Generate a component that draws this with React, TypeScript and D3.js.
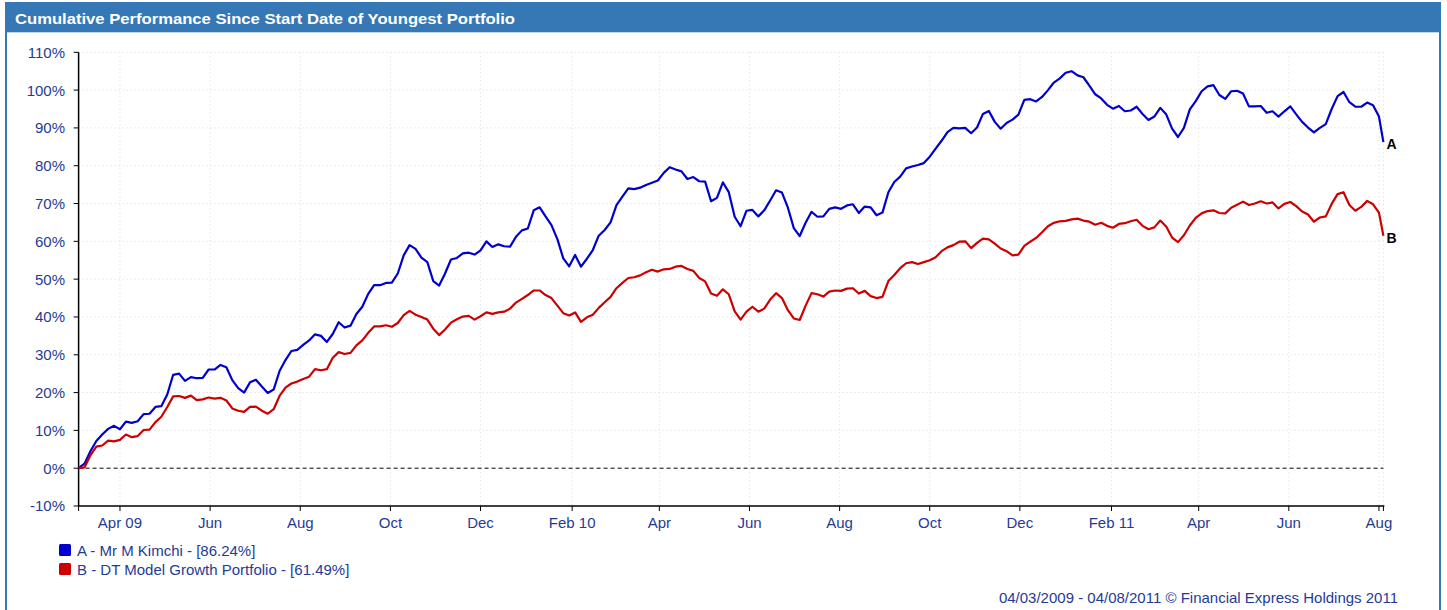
import React from 'react';
import * as d3 from 'd3';

// chart data
const startDate = new Date(Date.UTC(2009, 2, 4));
const endDate = new Date(Date.UTC(2011, 7, 4));
const stepDays = 4;

const kimchi = [
  0, 1.2, 4.5, 7.2, 8.9, 10.4, 11.2, 10.3, 12.3, 12.0, 12.4, 14.3, 14.4, 16.2, 16.4, 19.5, 24.7, 25.0, 23.1, 24.1,
  23.8, 23.9, 26.1, 26.1, 27.3, 26.7, 23.3, 21.2, 20.0, 22.7, 23.4, 21.6, 19.9, 20.8, 25.7, 28.6, 31.0, 31.3, 32.6, 33.8,
  35.4, 35.0, 33.4, 35.5, 38.6, 37.2, 37.7, 40.8, 42.7, 46.1, 48.4, 48.4, 49.0, 49.1, 51.5, 56.3, 59.0, 58.0, 55.7, 54.5,
  49.5, 48.3, 51.5, 55.2, 55.6, 56.8, 57.0, 56.5, 57.6, 60.0, 58.5, 59.2, 58.7, 58.6, 61.2, 62.9, 63.4, 68.2, 69.0, 66.6,
  64.3, 60.6, 55.5, 53.4, 56.4, 53.3, 55.4, 57.7, 61.5, 63.0, 65.0, 69.6, 71.8, 74.0, 73.8, 74.2, 74.9, 75.5, 76.1, 78.1,
  79.6, 79.0, 78.5, 76.5, 77.0, 75.9, 75.8, 70.6, 71.5, 75.6, 73.0, 66.5, 64.0, 68.1, 68.3, 66.6, 68.2, 70.8, 73.5, 72.9,
  68.9, 63.5, 61.4, 64.9, 67.8, 66.5, 66.6, 68.6, 69.0, 68.6, 69.5, 69.8, 67.5, 69.2, 69.0, 66.9, 67.6, 73.0, 75.7, 77.1,
  79.3, 79.8, 80.2, 80.7, 82.4, 84.5, 86.6, 88.9, 90.0, 89.9, 90.0, 88.6, 90.1, 93.7, 94.5, 91.6, 89.8, 91.3, 92.2, 93.5,
  97.4, 97.6, 97.0, 98.2, 100.0, 102.0, 103.1, 104.6, 105.0, 103.9, 103.4, 101.2, 98.9, 97.8, 96.1, 95.1, 95.8, 94.4, 94.6, 95.6,
  93.7, 92.1, 93.0, 95.3, 93.6, 89.8, 87.6, 90.0, 94.9, 97.1, 99.7, 101.0, 101.3, 98.7, 97.7, 99.7, 99.8, 99.1, 95.7, 95.7,
  95.8, 94.0, 94.4, 93.0, 94.4, 95.7, 93.6, 91.6, 90.1, 88.8, 90.0, 91.0, 95.0, 98.4, 99.5, 96.8, 95.6, 95.6, 96.7, 96.0,
  93.0, 86.24,
];

const dtModel = [
  0, 0.2, 3.4, 5.7, 6.0, 7.3, 7.1, 7.5, 8.9, 8.2, 8.5, 10.1, 10.2, 12.2, 13.6, 16.2, 19.0, 19.1, 18.6, 19.2,
  18.0, 18.2, 18.7, 18.4, 18.6, 17.9, 15.8, 15.2, 14.9, 16.2, 16.3, 15.2, 14.4, 15.6, 19.1, 21.3, 22.4, 22.9, 23.6, 24.2,
  26.2, 25.9, 26.2, 29.2, 30.7, 30.2, 30.5, 32.5, 33.8, 35.8, 37.5, 37.5, 37.8, 37.4, 38.4, 40.5, 41.6, 40.6, 40.0, 39.3,
  36.9, 35.2, 36.7, 38.5, 39.4, 40.1, 40.3, 39.3, 40.2, 41.2, 40.8, 41.2, 41.4, 42.2, 43.8, 44.8, 45.8, 47.0, 47.0, 45.8,
  45.0, 43.0, 41.0, 40.4, 41.2, 38.7, 39.9, 40.6, 42.4, 43.9, 45.3, 47.6, 49.0, 50.3, 50.5, 51.0, 51.8, 52.5, 52.0, 52.6,
  52.7, 53.3, 53.5, 52.7, 52.2, 50.3, 49.4, 46.2, 45.6, 47.3, 46.0, 41.5, 39.3, 41.4, 42.7, 41.4, 42.2, 44.6, 46.3, 45.0,
  41.8, 39.6, 39.2, 43.0, 46.3, 46.0, 45.4, 46.7, 47.0, 46.9, 47.5, 47.6, 46.2, 46.9, 45.5, 45.0, 45.3, 49.5, 51.1, 52.9,
  54.2, 54.5, 54.0, 54.5, 55.0, 55.8, 57.4, 58.4, 59.0, 59.9, 60.0, 58.2, 59.6, 60.7, 60.5, 59.4, 58.1, 57.4, 56.3, 56.5,
  58.8, 59.9, 60.9, 62.4, 64.0, 64.9, 65.3, 65.4, 65.8, 66.0, 65.5, 65.2, 64.4, 64.9, 64.1, 63.6, 64.6, 64.8, 65.3, 65.7,
  64.1, 63.2, 63.7, 65.5, 63.9, 61.0, 59.8, 61.6, 64.2, 66.2, 67.4, 68.0, 68.2, 67.5, 67.4, 68.9, 69.7, 70.5, 69.6, 70.0,
  70.6, 70.0, 70.3, 68.7, 69.9, 70.4, 69.3, 67.9, 67.1, 65.2, 66.3, 66.6, 69.9, 72.5, 73.0, 69.6, 68.1, 69.1, 70.7, 69.8,
  67.6, 61.49,
];

const seriesNames = ['A - Mr M Kimchi - [86.24%]', 'B - DT Model Growth Portfolio - [61.49%]'];
const seriesTags = ['A', 'B'];
const seriesColors = ['#0000cc', '#cc0000'];
const yTicks = [-10, 0, 10, 20, 30, 40, 50, 60, 70, 80, 90, 100, 110];
const xTickDates = [
  [2009, 3, 'Apr 09'], [2009, 5, 'Jun'], [2009, 7, 'Aug'], [2009, 9, 'Oct'], [2009, 11, 'Dec'],
  [2010, 1, 'Feb 10'], [2010, 3, 'Apr'], [2010, 5, 'Jun'], [2010, 7, 'Aug'], [2010, 9, 'Oct'], [2010, 11, 'Dec'],
  [2011, 1, 'Feb 11'], [2011, 3, 'Apr'], [2011, 5, 'Jun'], [2011, 7, 'Aug'],
] as [number, number, string][];

const title = 'Cumulative Performance Since Start Date of Youngest Portfolio';
const footer = '04/03/2009 - 04/08/2011 \u00a9 Financial Express Holdings 2011';

const W = 1447;
const H = 610;
const frameBlue = '#3677b5';
const textBlue = '#1f3b96';
const font = 'Arial, "Liberation Sans", sans-serif';
const fs = 15;

export default function App() {
  const left = 78.6;
  const right = 1383.4;
  const top = 52.3;
  const bottom = 506;

  const x = d3.scaleUtc().domain([startDate, endDate]).range([left, right]);
  const y = d3.scaleLinear().domain([-10, 110]).range([bottom, top]);

  const dates = kimchi.map((_, i) =>
    i === kimchi.length - 1 ? endDate : d3.utcDay.offset(startDate, i * stepDays)
  );

  const line = d3.line<number>()
    .x((_, i) => x(dates[i]))
    .y((d) => y(d));

  const series = [kimchi, dtModel];
  const ticks = xTickDates.map(([yr, m, label]) => ({ d: new Date(Date.UTC(yr, m, 1)), label }));

  return (
    <div style={{ position: 'absolute', left: 0, top: 0 }}>
      <svg width={W} height={H} style={{ display: 'block', fontFamily: font }}>
        <rect x={0} y={0} width={W} height={H} fill="#fff" />
        {/* frame + title bar */}
        <rect x={6} y={3} width={1434} height={H + 10} fill="none" stroke={frameBlue} strokeWidth={2} />
        <rect x={5} y={3} width={1436} height={29.3} fill={frameBlue} />
        <text x={15} y={24} fill="#fff" fontSize={15.2} fontWeight="bold"
          textLength={500} lengthAdjust="spacingAndGlyphs">{title}</text>

        {/* grid */}
        {yTicks.filter((t) => t > 0).map((t) => (
          <line key={'gy' + t} x1={left} x2={right} y1={y(t)} y2={y(t)}
            stroke="#d8d8d8" strokeWidth={1} strokeDasharray="1,3" />
        ))}
        {ticks.map((t) => (
          <line key={'gx' + t.label + +t.d} x1={x(t.d)} x2={x(t.d)} y1={top} y2={bottom}
            stroke="#d8d8d8" strokeWidth={1} strokeDasharray="1,3" />
        ))}
        <line x1={right} x2={right} y1={top} y2={bottom} stroke="#d8d8d8" strokeDasharray="1,3" />
        <line x1={left} x2={right} y1={y(0)} y2={y(0)} stroke="#000" strokeWidth={1} strokeDasharray="4,3" />

        {/* axes */}
        <line x1={left} x2={left} y1={top} y2={bottom} stroke="#000" strokeWidth={1.5} />
        <line x1={left} x2={right + 1} y1={bottom} y2={bottom} stroke="#000" strokeWidth={1.5} />
        {yTicks.map((t) => (
          <g key={'yt' + t}>
            <line x1={left - 5} x2={left} y1={y(t)} y2={y(t)} stroke="#000" />
            <text x={65} y={y(t)} dy="0.36em" textAnchor="end" fill={textBlue} fontSize={fs}>{t}%</text>
          </g>
        ))}
        {[{ d: startDate, label: '' }, ...ticks, { d: endDate, label: '' }].map((t, i) => (
          <g key={'xt' + i}>
            <line x1={x(t.d)} x2={x(t.d)} y1={bottom} y2={bottom + 5} stroke="#000" />
            {t.label && (
              <text x={x(t.d)} y={527.5} textAnchor="middle" fill={textBlue} fontSize={fs}>{t.label}</text>
            )}
          </g>
        ))}

        {/* lines */}
        {series.map((s, si) => (
          <g key={'s' + si}>
            <path d={line(s) || ''} fill="none" stroke={seriesColors[si]} strokeWidth={2.2} strokeLinejoin="round" />
            <text x={right + 3} y={y(s[s.length - 1])} dy="0.5em" fontSize={14} fontWeight="bold" fill="#000">
              {seriesTags[si]}
            </text>
          </g>
        ))}

        {/* legend */}
        {seriesNames.map((n, i) => (
          <g key={'lg' + i} transform={`translate(59,${544 + i * 19})`}>
            <rect x={0} y={0} width={12} height={12} rx={1.5} fill={seriesColors[i]} />
            <text x={18} y={11.5} fill={textBlue} fontSize={fs}>{n}</text>
          </g>
        ))}

        <text x={1398} y={603} textAnchor="end" fill={textBlue} fontSize={fs}>{footer}</text>
      </svg>
    </div>
  );
}
